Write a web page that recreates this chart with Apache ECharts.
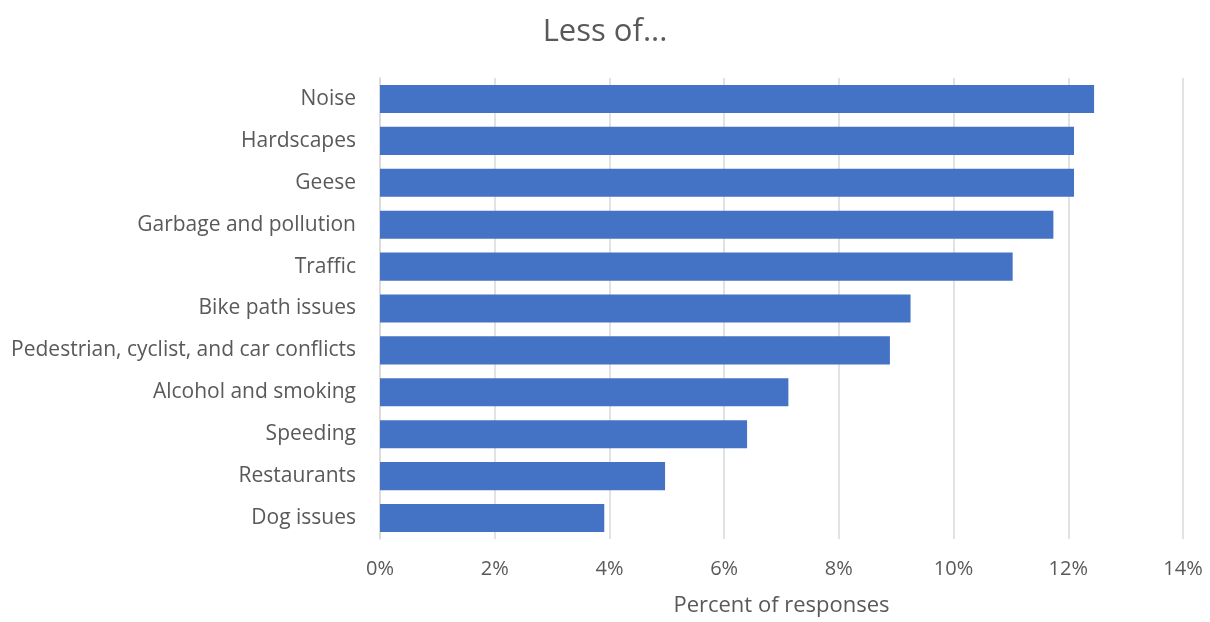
<!DOCTYPE html>
<html><head><meta charset="utf-8">
<script src="https://cdn.jsdelivr.net/npm/echarts@6/dist/echarts.min.js"></script>
<style>html,body{margin:0;padding:0;background:#fff}#c{width:1210px;height:622px}</style>
</head><body><div id="c"></div>
<script>
const categories = ["Noise","Hardscapes","Geese","Garbage and pollution","Traffic","Bike path issues","Pedestrian, cyclist, and car conflicts","Alcohol and smoking","Speeding","Restaurants","Dog issues"];
const values = [12.45,12.10,12.10,11.74,11.03,9.25,8.89,7.12,6.40,4.97,3.91];
const xTicks = [0,2,4,6,8,10,12,14];
const chart = echarts.init(document.getElementById('c'));
const font = "'Open Sans', 'Liberation Sans', sans-serif";
chart.setOption({
  animation:false,
  title:{text:"Less of...",left:'center',top:12,textStyle:{fontFamily:font,fontSize:31,fontWeight:'normal',color:'#595959'}},
  grid:{left:380,right:27,top:78,bottom:82,containLabel:false},
  xAxis:{type:'value',min:0,max:14,interval:2,
    name:"Percent of responses",nameLocation:'middle',nameGap:56,
    nameTextStyle:{fontFamily:font,fontSize:22,color:'#595959'},
    axisLabel:{formatter:v=>v+'%',fontFamily:font,fontSize:20,color:'#595959',margin:20},
    axisLine:{show:false},axisTick:{show:false},
    splitLine:{lineStyle:{color:'#d9d9d9',width:1.5}}},
  yAxis:{type:'category',data:categories,inverse:true,
    axisLine:{show:true,lineStyle:{color:'#d9d9d9',width:1.5}},axisTick:{show:false},
    axisLabel:{fontFamily:font,fontSize:21,color:'#595959',margin:24}},
  series:[{type:'bar',data:values,barCategoryGap:'33%',itemStyle:{color:'#4472c4'}}]
});
</script></body></html>
